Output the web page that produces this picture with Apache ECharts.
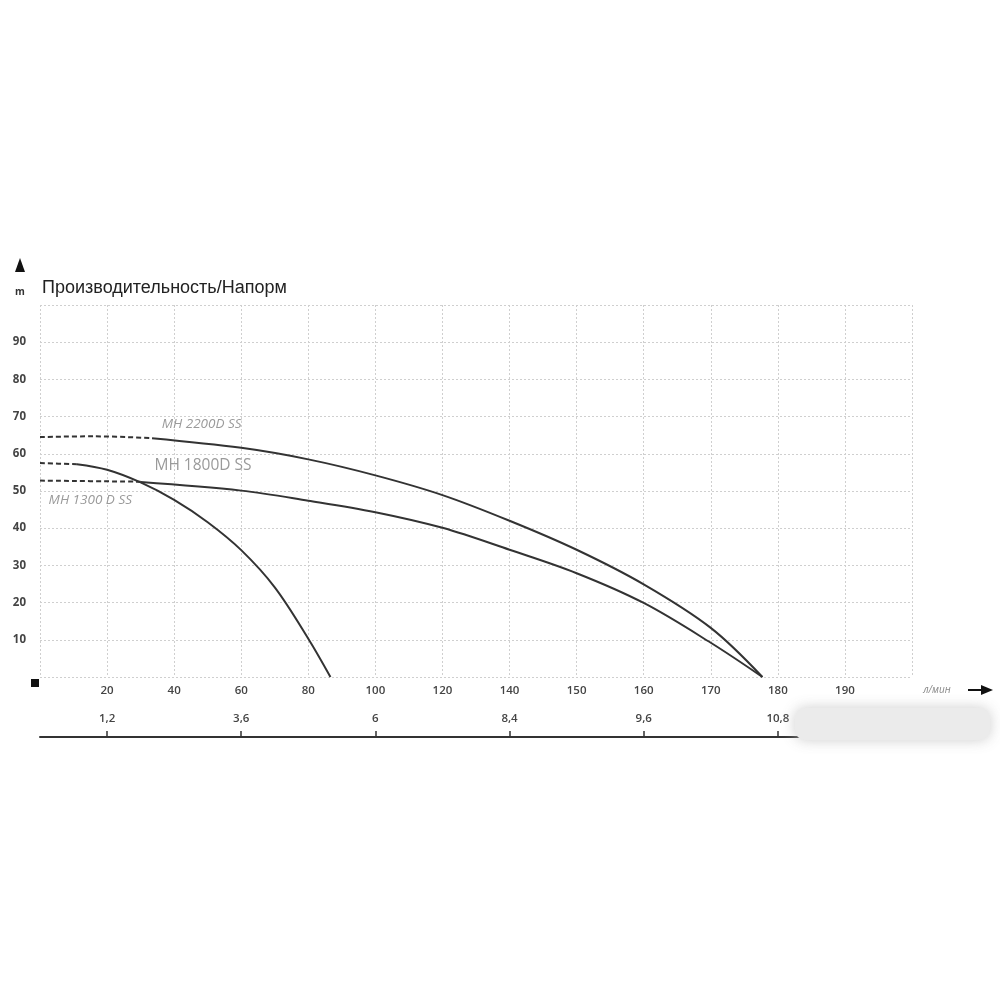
<!DOCTYPE html>
<html>
<head>
<meta charset="utf-8">
<script src="https://cdn.jsdelivr.net/npm/echarts@6/dist/echarts.min.js"></script>
<style>html,body{margin:0;padding:0;background:#fff}#c{width:1000px;height:1000px}</style>
</head>
<body>
<div id="c"></div>
<script>
// Flow labels (л/мин) placed at grid columns 1..12
const flowLabels = ['20','40','60','80','100','120','140','150','160','170','180','190'];
// Secondary scale labels at columns 1,3,5,7,9,11
const secondaryCols = [1,3,5,7,9,11];
const secondaryLabels = ['1,2','3,6','6','8,4','9,6','10,8'];
// Head tick labels (m)
const headTicks = [10,20,30,40,50,60,70,80,90];

// Curves: [column position, head m]
const mh2200Dashed = [[0,64.5],[0.8,64.7],[1.67,64.2]];
const mh2200 = [[1.67,64.2],[3,61.6],[4,58.5],[5,54.2],[6,48.9],[7,42.0],[8,34.2],[9,24.9],[10,13.2],[10.77,0]];
const mh1800Dashed = [[0,52.8],[1.5,52.5]];
const mh1800 = [[1.5,52.4],[3,50.1],[4,47.4],[5,44.3],[6,40.1],[7,34.2],[8,27.9],[9,19.9],[10,9.2],[10.77,0]];
const mh1300Dashed = [[0,57.5],[0.55,57.2]];
const mh1300 = [[0.55,57.2],[1,55.7],[1.5,52.3],[2,47.6],[2.5,41.6],[3,34.1],[3.5,24.1],[4,10.3],[4.33,0]];

const names = ['MH 2200D SS','MH 1800D SS','MH 1300 D SS'];

const chart = echarts.init(document.getElementById('c'), null, {renderer:'canvas'});
const lineCol = '#333';
const gridStyle = {color:'#cfcfcf', width:1, type:[2,2]};
const lblFont = {fontFamily:'Open Sans', fontSize:11.5, fontWeight:600, color:'#444'};

function solid(data, extra){
  return Object.assign({type:'line', data, smooth:0.35, symbol:'none', xAxisIndex:0, yAxisIndex:0,
    lineStyle:{color:lineCol, width:2}, silent:true, z:5}, extra||{});
}
function dashed(data){
  return {type:'line', data, smooth:0.35, symbol:'none', xAxisIndex:0, yAxisIndex:0,
    lineStyle:{color:lineCol, width:2, type:[5,3]}, silent:true, z:5};
}
function tag(name, coord, style){
  return {symbol:'circle', symbolSize:1, silent:true, itemStyle:{color:'rgba(0,0,0,0)'},
    data:[{coord, value:name,
    label:Object.assign({show:true, formatter:name, position:'inside', color:'#9a9a9a'}, style)}]};
}

chart.setOption({
  animation:false,
  title:{text:'Производительность/Напорм', left:37, top:274,
    textStyle:{fontFamily:'Liberation Sans', fontSize:18, fontWeight:'normal', color:'#222'}},
  grid:{left:40, right:88, top:305, bottom:323, containLabel:false},
  xAxis:[{
    type:'value', min:0, max:13, interval:1, position:'bottom',
    axisLine:{show:false}, axisTick:{show:false},
    splitLine:{show:true, lineStyle:gridStyle},
    axisLabel:Object.assign({margin:8, customValues:flowLabels.map((_,i)=>i+1),
      formatter:v=>flowLabels[Math.round(v)-1]||''}, lblFont)
  },{
    type:'value', min:0, max:13, position:'bottom', offset:60,
    axisLine:{show:true, lineStyle:{color:'#333', width:2}},
    axisTick:{show:true, inside:true, length:6, customValues:secondaryCols, lineStyle:{color:'#333', width:1.5}},
    splitLine:{show:false},
    axisLabel:Object.assign({inside:true, margin:12, customValues:secondaryCols,
      formatter:v=>secondaryLabels[secondaryCols.indexOf(Math.round(v))]||''}, lblFont)
  }],
  yAxis:{
    type:'value', min:0, max:100, interval:10,
    axisLine:{show:false}, axisTick:{show:false},
    splitLine:{show:true, lineStyle:gridStyle},
    axisLabel:Object.assign({margin:14, align:'right',
      formatter:v=>headTicks.includes(v)?String(v):''}, lblFont, {fontWeight:'bold'})
  },
  series:[
    dashed(mh2200Dashed),
    solid(mh2200, {name:names[0], markPoint:tag(names[0],[2.41,68],{fontFamily:'Open Sans', fontStyle:'italic', fontSize:13.5})}),
    dashed(mh1800Dashed),
    solid(mh1800, {name:names[1], markPoint:tag(names[1],[2.43,56.8],{fontFamily:'Open Sans', fontSize:15.5})}),
    dashed(mh1300Dashed),
    solid(mh1300, {name:names[2], markPoint:tag(names[2],[0.75,47.6],{fontFamily:'Open Sans', fontStyle:'italic', fontSize:13.5})})
  ],
  graphic:[
    // up arrow on y axis
    {type:'polygon', shape:{points:[[20,258],[15,272],[25,272]]}, style:{fill:'#111'}},
    {type:'text', x:20, y:292, style:{text:'m', fill:'#333', font:'bold 10px "Open Sans"', align:'center', verticalAlign:'middle'}},
    // origin square
    {type:'rect', shape:{x:31, y:679, width:8, height:8}, style:{fill:'#111'}},
    // unit label and arrow
    {type:'text', x:937, y:690, style:{text:'л/мин', fill:'#888', font:'italic 10px "Open Sans"', align:'center', verticalAlign:'middle'}},
    {type:'line', shape:{x1:968, y1:690, x2:984, y2:690}, style:{stroke:'#111', lineWidth:2}},
    {type:'polygon', shape:{points:[[993,690],[981,685],[981,695]]}, style:{fill:'#111'}},
    // blurred watermark area
    {type:'rect', shape:{x:795, y:708, width:195, height:32, r:10}, z:100,
      style:{fill:'#ebebeb', shadowBlur:14, shadowColor:'rgba(200,200,200,0.9)'}}
  ]
});
</script>
</body>
</html>
